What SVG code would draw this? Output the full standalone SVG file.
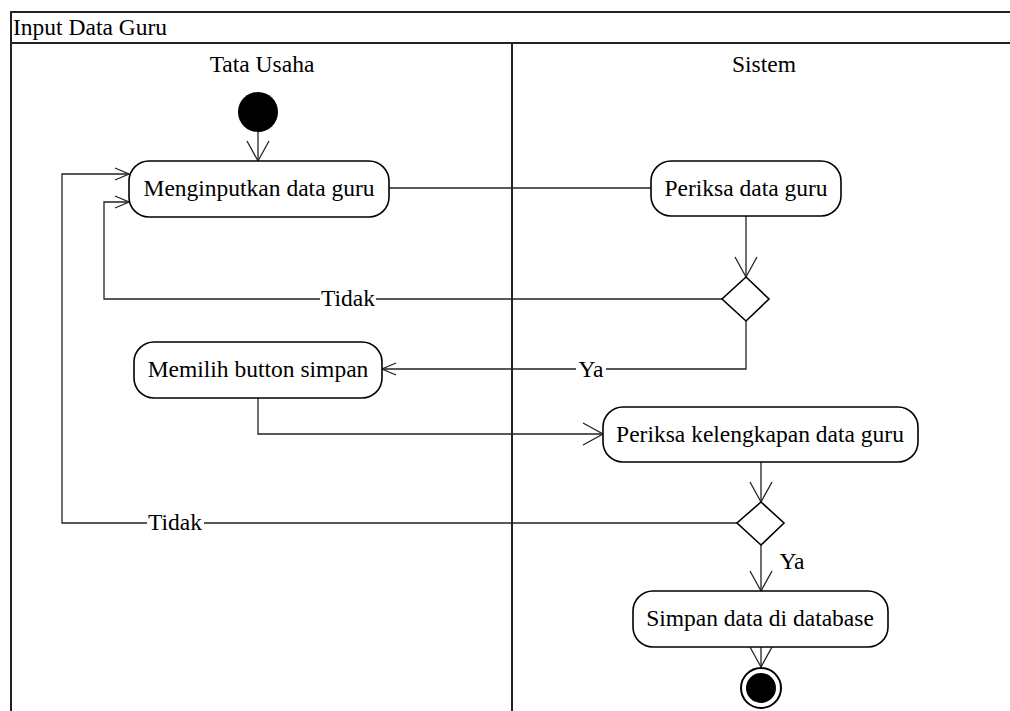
<svg xmlns="http://www.w3.org/2000/svg" width="1010" height="711" viewBox="0 0 1010 711">
  <style>
    text { font-family: "Liberation Serif", "DejaVu Serif", serif; font-size: 23.5px; fill: #000; }
    .frame { fill: none; stroke: #222; stroke-width: 2; }
    .act { fill: #fff; stroke: #000; stroke-width: 1.6; }
    .dec { fill: #fff; stroke: #000; stroke-width: 1.6; }
    .edge { fill: none; stroke: #222; stroke-width: 1.3; }
    .lbl-bg { fill: #fff; stroke: none; }
    .mid { text-anchor: middle; }
  </style>
  <defs>
    <marker id="arrowLg" markerUnits="userSpaceOnUse" markerWidth="22" markerHeight="24" refX="20" refY="12" orient="auto" overflow="visible">
      <path d="M0,1 L20,12 L0,23" fill="none" stroke="#222" stroke-width="1.3"/>
    </marker>
    <marker id="arrowSm" markerUnits="userSpaceOnUse" markerWidth="16" markerHeight="14" refX="14" refY="7" orient="auto" overflow="visible">
      <path d="M0,1 L14,7 L0,13" fill="none" stroke="#222" stroke-width="1.3"/>
    </marker>
  </defs>

  <rect width="1010" height="711" fill="#fff"/>

  <g font-family="'Liberation Serif', 'DejaVu Serif', serif" font-size="23.5">
  <!-- frame, title bar and swimlanes -->
  <g id="frame">
    <path class="frame" d="M1012,12 H11 V713"/>
    <line class="frame" x1="11" y1="43" x2="1012" y2="43"/>
    <line class="frame" x1="512" y1="43" x2="512" y2="713"/>
    <text x="13" y="35">Input Data Guru</text>
    <text class="mid" x="262" y="72">Tata Usaha</text>
    <text class="mid" x="764" y="72">Sistem</text>
  </g>

  <!-- connectors -->
  <g id="connectors">
    <path class="edge" d="M258,131 V161" marker-end="url(#arrowLg)"/>
    <path class="edge" d="M389,188 H651"/>
    <path class="edge" d="M746,216 V277" marker-end="url(#arrowLg)"/>
    <path class="edge" d="M722,299 H104 V202 H129" marker-end="url(#arrowSm)"/>
    <path class="edge" d="M746,321 V369 H382" marker-end="url(#arrowSm)"/>
    <path class="edge" d="M258,398 V434 H603" marker-end="url(#arrowLg)"/>
    <path class="edge" d="M761,462 V502" marker-end="url(#arrowLg)"/>
    <path class="edge" d="M737,523 H62 V174 H129" marker-end="url(#arrowSm)"/>
    <path class="edge" d="M761,545 V591" marker-end="url(#arrowLg)"/>
    <path class="edge" d="M761,647 V667" marker-end="url(#arrowLg)"/>

    <rect class="lbl-bg" x="320" y="289" width="56" height="20"/>
    <text class="mid" x="348" y="306">Tidak</text>
    <rect class="lbl-bg" x="576" y="360" width="30" height="20"/>
    <text class="mid" x="591" y="377">Ya</text>
    <rect class="lbl-bg" x="147" y="513" width="57" height="20"/>
    <text class="mid" x="175" y="530">Tidak</text>
    <text class="mid" x="792" y="569">Ya</text>
  </g>

  <g id="start">
    <circle cx="258" cy="112" r="20" fill="#000"/>
  </g>

  <g id="menginputkan">
    <rect class="act" x="129" y="161" width="260" height="56" rx="20"/>
    <text class="mid" x="259" y="196">Menginputkan data guru</text>
  </g>

  <g id="periksa-data">
    <rect class="act" x="651" y="161" width="190" height="55" rx="20"/>
    <text class="mid" x="746" y="196">Periksa data guru</text>
  </g>

  <g id="decision-1">
    <polygon class="dec" points="746,277 769,299 746,321 722,299"/>
  </g>

  <g id="memilih-simpan">
    <rect class="act" x="134" y="342" width="248" height="56" rx="20"/>
    <text class="mid" x="258" y="377">Memilih button simpan</text>
  </g>

  <g id="periksa-kelengkapan">
    <rect class="act" x="603" y="407" width="315" height="55" rx="20"/>
    <text class="mid" x="760" y="442">Periksa kelengkapan data guru</text>
  </g>

  <g id="decision-2">
    <polygon class="dec" points="761,502 784,523 761,545 737,523"/>
  </g>

  <g id="simpan-database">
    <rect class="act" x="633" y="591" width="255" height="56" rx="20"/>
    <text class="mid" x="760" y="626">Simpan data di database</text>
  </g>

  <g id="end">
    <circle cx="761" cy="688" r="20" fill="#fff" stroke="#000" stroke-width="2"/>
    <circle cx="761" cy="688" r="15" fill="#000"/>
  </g>
  </g>
</svg>
